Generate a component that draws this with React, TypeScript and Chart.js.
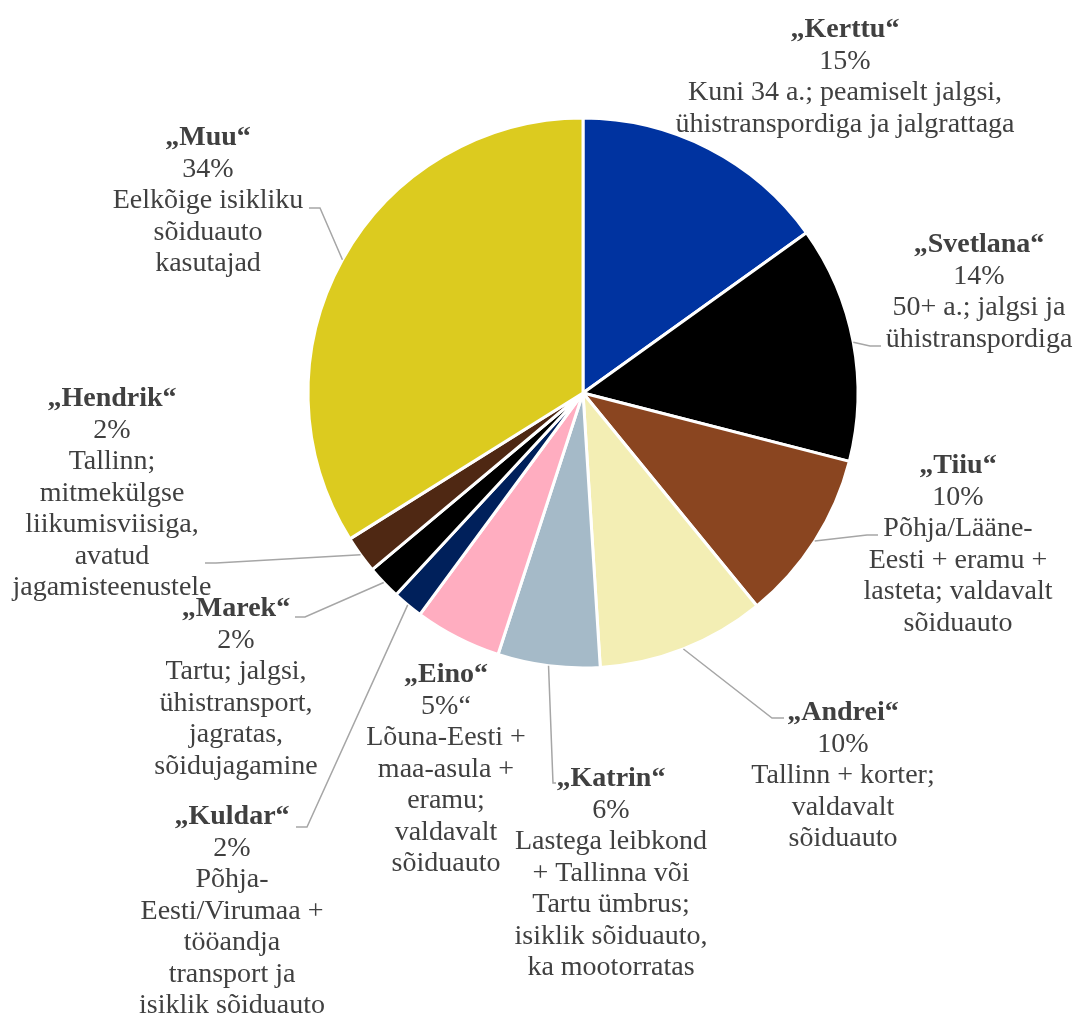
import React, { useEffect, useRef } from "react";
import { Chart, registerables } from "chart.js";

Chart.register(...registerables);

const names = ["Kerttu", "Svetlana", "Tiiu", "Andrei", "Katrin", "Eino", "Kuldar", "Marek", "Hendrik", "Muu"];
const values = [15.1, 13.9, 10.1, 9.9, 6.0, 5.1, 1.8, 2.0, 2.2, 33.9];
const percentLabels = ["15%", "14%", "10%", "10%", "6%", "5%“", "2%", "2%", "2%", "34%"];
const descriptions: string[][] = [
  ["Kuni 34 a.; peamiselt jalgsi,", "ühistranspordiga ja jalgrattaga"],
  ["50+ a.; jalgsi ja", "ühistranspordiga"],
  ["Põhja/Lääne-", "Eesti + eramu +", "lasteta; valdavalt", "sõiduauto"],
  ["Tallinn + korter;", "valdavalt", "sõiduauto"],
  ["Lastega leibkond", "+ Tallinna või", "Tartu ümbrus;", "isiklik sõiduauto,", "ka mootorratas"],
  ["Lõuna-Eesti +", "maa-asula +", "eramu;", "valdavalt", "sõiduauto"],
  ["Põhja-", "Eesti/Virumaa +", "tööandja", "transport ja", "isiklik sõiduauto"],
  ["Tartu; jalgsi,", "ühistransport,", "jagratas,", "sõidujagamine"],
  ["Tallinn;", "mitmekülgse", "liikumisviisiga,", "avatud", "jagamisteenustele"],
  ["Eelkõige isikliku", "sõiduauto", "kasutajad"],
];
const colors = ["#0033A0", "#000000", "#8A4520", "#F3EEB4", "#A5BAC8", "#FFADC0", "#00205B", "#000000", "#4F2813", "#DCCB1F"];

// label layout, offsets relative to the pie centre: text centre x, first baseline y, leader [elbowX, elbowY, endX, endY]
const labelLayout: { tx: number; ty: number; leader: number[] | null }[] = [
  { tx: 262, ty: -356, leader: null },
  { tx: 396, ty: -141, leader: [287, -47, 298, -47] },
  { tx: 375, ty: 80, leader: [284, 142, 295, 142] },
  { tx: 260, ty: 327, leader: [189, 325, 201, 325] },
  { tx: 28, ty: 393, leader: [-30, 390, -27, 390] },
  { tx: -137, ty: 289, leader: null },
  { tx: -351, ty: 431, leader: [-276, 434, -287, 434] },
  { tx: -347, ty: 223, leader: [-278, 224, -288, 224] },
  { tx: -471, ty: 13, leader: [-367, 170, -378, 170] },
  { tx: -375, ty: -248, leader: [-263, -185, -274, -185] },
];

const LINE_H = 31.5;
const FONT_SIZE = 28;
const FONT = '"Liberation Serif", "Times New Roman", serif';

const labelPlugin = {
  id: "outerLabels",
  afterDatasetsDraw(chart: any) {
    const ctx = chart.ctx as CanvasRenderingContext2D;
    const meta = chart.getDatasetMeta(0);
    ctx.save();
    meta.data.forEach((el: any, i: number) => {
      const p = el.getProps(["x", "y", "startAngle", "endAngle", "outerRadius"], true);
      const lay = labelLayout[i];
      if (lay.leader) {
        const mid = (p.startAngle + p.endAngle) / 2;
        const sx = p.x + Math.cos(mid) * p.outerRadius;
        const sy = p.y + Math.sin(mid) * p.outerRadius;
        ctx.beginPath();
        ctx.strokeStyle = "#A6A6A6";
        ctx.lineWidth = 1.5;
        ctx.moveTo(sx, sy);
        ctx.lineTo(p.x + lay.leader[0], p.y + lay.leader[1]);
        ctx.lineTo(p.x + lay.leader[2], p.y + lay.leader[3]);
        ctx.stroke();
      }
    });
    meta.data.forEach((el: any, i: number) => {
      const p = el.getProps(["x", "y"], true);
      const lay = labelLayout[i];
      const lines = ["„" + names[i] + "“", percentLabels[i], ...descriptions[i]];
      ctx.fillStyle = "#404040";
      ctx.textAlign = "center";
      ctx.textBaseline = "alphabetic";
      lines.forEach((t, k) => {
        ctx.font = (k === 0 ? "bold " : "") + FONT_SIZE + "px " + FONT;
        ctx.fillText(t, p.x + lay.tx, p.y + lay.ty + k * LINE_H);
      });
    });
    ctx.restore();
  },
};

export default function App() {
  const ref = useRef<HTMLCanvasElement>(null);
  useEffect(() => {
    if (!ref.current) return;
    const chart = new Chart(ref.current, {
      type: "pie",
      data: {
        labels: names,
        datasets: [
          {
            data: values,
            backgroundColor: colors,
            borderColor: "#FFFFFF",
            borderWidth: 3,
          },
        ],
      },
      options: {
        responsive: false,
        animation: false,
        layout: { padding: { left: 306.5, right: 219.5, top: 116.5, bottom: 350.5 } },
        plugins: {
          legend: { display: false },
          tooltip: { enabled: false },
        },
      },
      plugins: [labelPlugin],
    });
    return () => chart.destroy();
  }, []);
  return (
    <div style={{ position: "fixed", left: 0, top: 0, width: 1079, height: 1020, overflow: "hidden" }}>
      <canvas ref={ref} width={1079} height={1020} style={{ display: "block" }} />
    </div>
  );
}
